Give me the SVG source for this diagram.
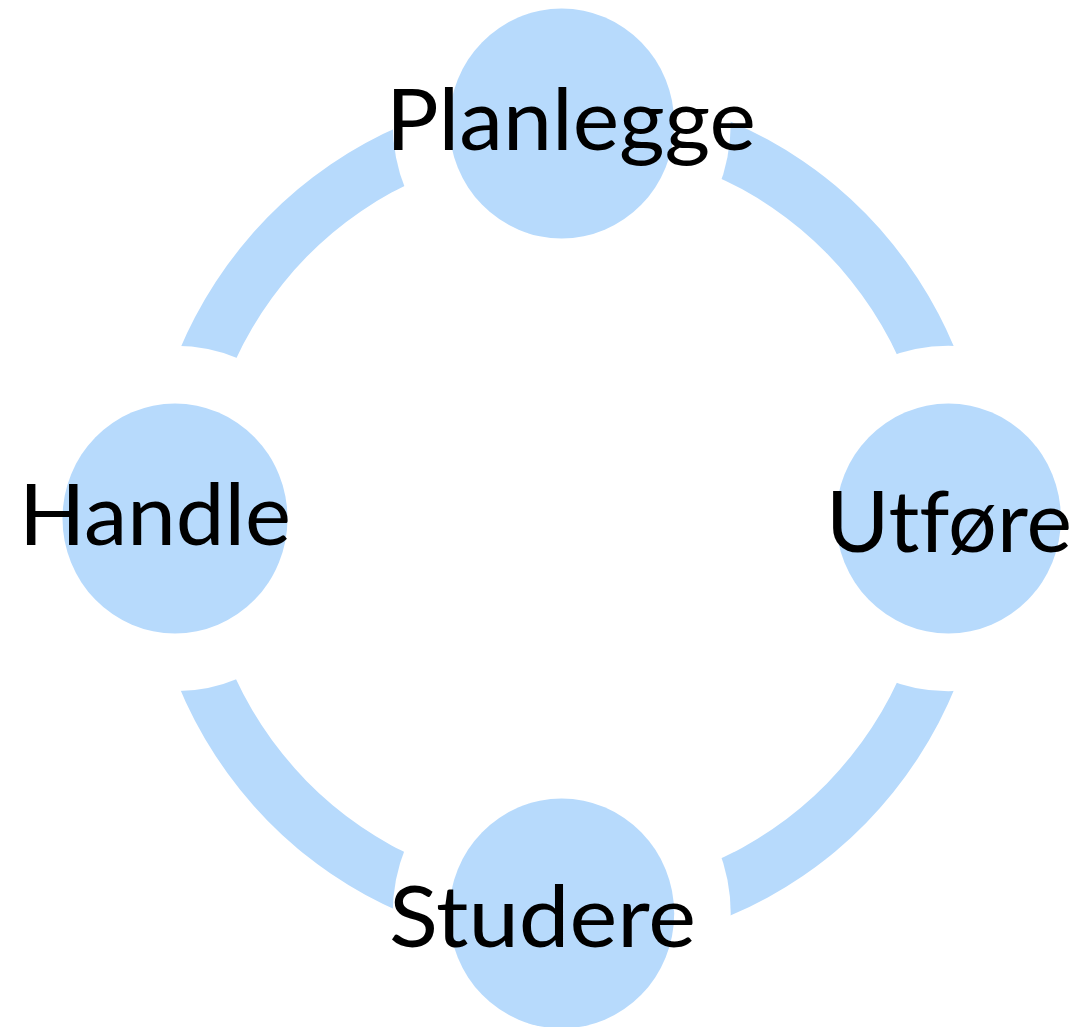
<svg xmlns="http://www.w3.org/2000/svg" width="1084" height="1027" viewBox="0 0 1084 1027">
  <style>
    .arc { fill: #B7DAFC; }
    .node { fill: #B7DAFC; }
    .label { font-family: "Lato", "Liberation Sans", sans-serif; font-size: 86px; fill: #000000; text-anchor: middle; font-variant-ligatures: none; }
  </style>
  <defs>
    <!-- Clearance around each node: the ring segments stop at these circles -->
    <mask id="node-gaps" maskUnits="userSpaceOnUse" x="0" y="0" width="1084" height="1027">
      <rect x="0" y="0" width="1084" height="1027" fill="#FFFFFF"/>
      <ellipse cx="561.7" cy="123.5" rx="169" ry="172.7" fill="#000000"/>
      <ellipse cx="948.4" cy="518.5" rx="169" ry="172.7" fill="#000000"/>
      <ellipse cx="561.7" cy="913.5" rx="169" ry="172.7" fill="#000000"/>
      <ellipse cx="175" cy="518.5" rx="169" ry="172.7" fill="#000000"/>
    </mask>
  </defs>
  <rect width="1084" height="1027" fill="#FFFFFF"/>

  <!-- Cycle ring: four quarter bands, trimmed by the node clearance mask -->
  <g id="connectors" mask="url(#node-gaps)">
    <path id="arc-planlegge-utfore" class="arc" transform="translate(571.7 514.5) scale(1 1.022)" d="M0,-416 A416,416 0 0 1 416,0 L361,0 A361,361 0 0 0 0,-361 Z"/>
    <path id="arc-utfore-studere" class="arc" transform="translate(571.7 522.5) scale(1 1.022)" d="M416,0 A416,416 0 0 1 0,416 L0,361 A361,361 0 0 0 361,0 Z"/>
    <path id="arc-studere-handle" class="arc" transform="translate(561.7 520) scale(1 1.022)" d="M0,416 A416,416 0 0 1 -416,0 L-361,0 A361,361 0 0 0 0,361 Z"/>
    <path id="arc-handle-planlegge" class="arc" transform="translate(561.7 518) scale(1 1.022)" d="M-416,0 A416,416 0 0 1 0,-416 L0,-361 A361,361 0 0 0 -361,0 Z"/>
  </g>

  <g id="node-planlegge">
    <ellipse class="node" cx="561.7" cy="123.5" rx="112.5" ry="115"/>
    <text class="label" x="571" y="150" textLength="370" lengthAdjust="spacingAndGlyphs">Planlegge</text>
  </g>
  <g id="node-utfore">
    <ellipse class="node" cx="948.4" cy="518.5" rx="112.5" ry="115"/>
    <text class="label" x="949" y="552" textLength="246" lengthAdjust="spacingAndGlyphs">Utføre</text>
  </g>
  <g id="node-studere">
    <ellipse class="node" cx="561.7" cy="913.5" rx="112.5" ry="115"/>
    <text class="label" x="542.5" y="947" textLength="307" lengthAdjust="spacingAndGlyphs">Studere</text>
  </g>
  <g id="node-handle">
    <ellipse class="node" cx="175" cy="518.5" rx="112.5" ry="115"/>
    <text class="label" x="155" y="545" textLength="272" lengthAdjust="spacingAndGlyphs">Handle</text>
  </g>
</svg>
